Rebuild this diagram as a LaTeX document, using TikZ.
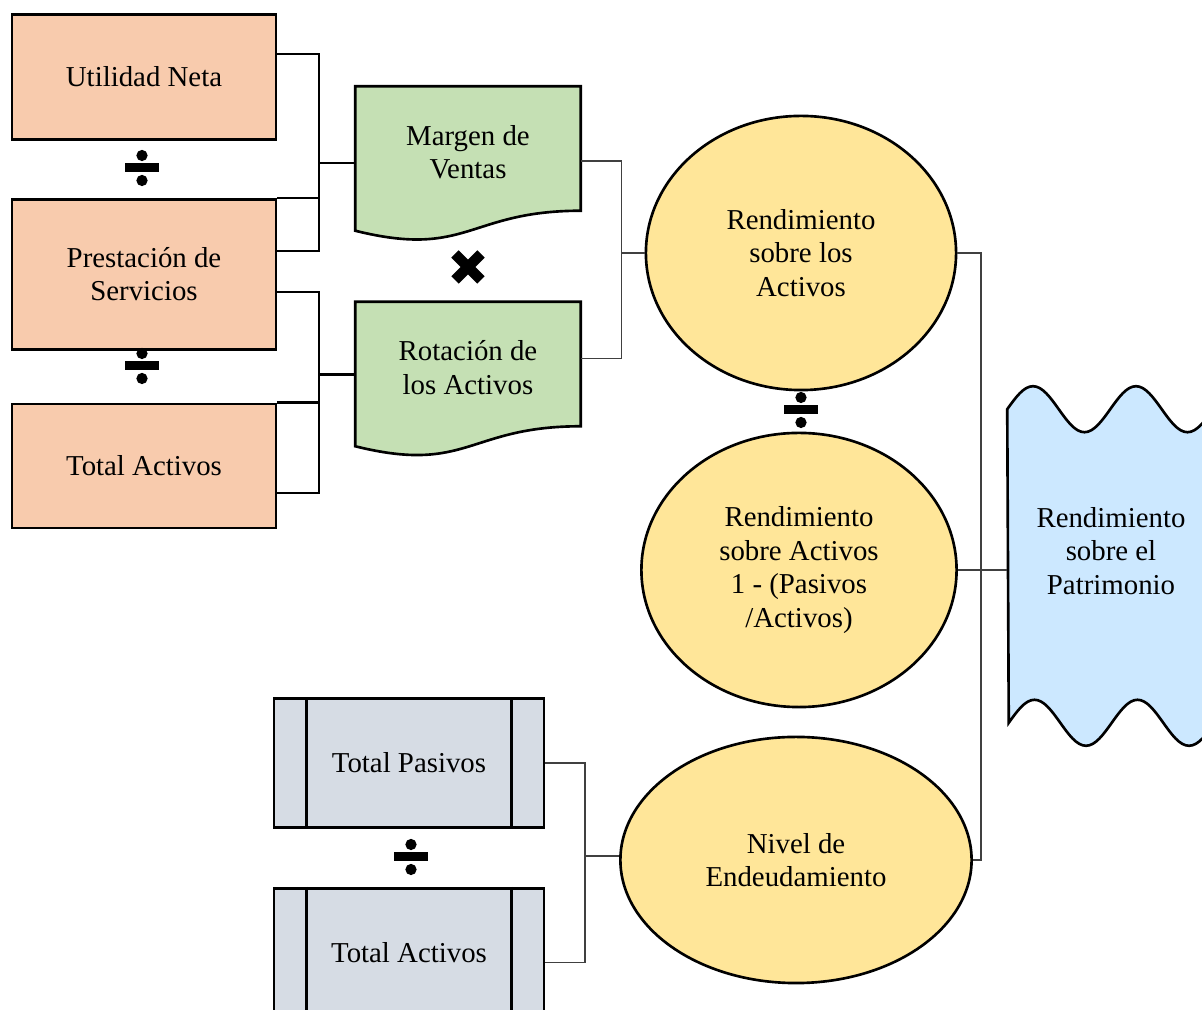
\documentclass[tikz,border=0pt]{standalone}
\usepackage{fontspec}
\setmainfont{Liberation Serif}
\usetikzlibrary{positioning}
\usetikzlibrary{calc}
\usetikzlibrary{shapes.geometric}
\usetikzlibrary{backgrounds}

\definecolor{ratiofill}{HTML}{F8CBAD}
\definecolor{docfill}{HTML}{C5E0B4}
\definecolor{ovalfill}{HTML}{FFE699}
\definecolor{procfill}{HTML}{D6DCE4}
\definecolor{tapefill}{HTML}{CCE8FF}

\tikzset{
  ratio/.style={draw, fill=ratiofill, line width=0.75pt, minimum width=2.64cm, align=center},
  doc/.style={minimum width=2.24cm, minimum height=1.30cm, align=center},
  oval/.style={ellipse, draw, fill=ovalfill, line width=0.75pt, align=center, inner sep=0pt},
  proc/.style={draw, fill=procfill, line width=0.75pt, minimum width=2.70cm, minimum height=1.29cm},
  boldlink/.style={line width=0.65pt},
  link/.style={line width=0.4pt, draw=black!75},
  divsign/.pic={
    \fill (-17,-4.5) rectangle (17,4.5);
    \fill (0,-12.5) circle[radius=1.6pt];
    \fill (0,12.5) circle[radius=1.6pt];
  },
  timessign/.pic={
    \draw[line width=3pt] (-13,-13) -- (13,13) (-13,13) -- (13,-13);
  }
}

\begin{document}
\begin{tikzpicture}[x=0.01cm, y=-0.01cm, node distance=0.57cm, font=\fontsize{8.2}{9.5}\selectfont]
    \useasboundingbox (0,0) rectangle (1202,1010);

    % left column
    \node[ratio, minimum height=1.25cm] (UN) at (144,77) {Utilidad Neta};
    \node[ratio, minimum height=1.50cm] (PS) [below=of UN] {Prestación de\\Servicios};
    \node[ratio, minimum height=1.24cm] (TA) [below=0.52cm of PS] {Total Activos};
    \pic at (142,168) {divsign};
    \pic at (142,366) {divsign};

    % documents
    \node[doc] (MV) at (468,152) {Margen de\\Ventas};
    \node[doc] (RA) [below=0.84cm of MV] {Rotación de\\los Activos};
    \pic at (468,267) {timessign};

    % ovals
    \node[oval, minimum width=3.10cm, minimum height=2.74cm] (RSA) at (801,253) {Rendimiento\\sobre los\\Activos};
    \node[oval, minimum width=3.15cm, minimum height=2.74cm] (RAP) at (799,570) {Rendimiento\\sobre Activos\\1 - (Pasivos\\/Activos)};
    \node[oval, minimum width=3.51cm, minimum height=2.46cm] (NE) at (796,860) {Nivel de\\Endeudamiento};
    \pic at (801,410) {divsign};

    % tape
    \node[minimum width=2.06cm, minimum height=2.82cm, align=center] (RP) at (1111,551) {Rendimiento\\sobre el\\Patrimonio};

    % bottom boxes
    \node[proc] (TP) at (409,763) {Total Pasivos};
    \node[proc] (TA2) [below=0.58cm of TP] {Total Activos};
    \pic at (411,857) {divsign};
    \foreach \n in {TP,TA2} {
        \draw[line width=0.75pt] ($(\n.north west)+(34,0)$) -- ($(\n.south west)+(34,0)$);
        \draw[line width=0.75pt] ($(\n.north east)+(-34,0)$) -- ($(\n.south east)+(-34,0)$);
    }

    \begin{scope}[on background layer]
        \foreach \n in {MV,RA}
            \draw[fill=docfill, line width=0.75pt] (\n.north west) -- (\n.north east)
                -- ($(\n.south east)+(0,-7)$) .. controls ($(\n.south)+(0,-7)$) and ($(\n.south)+(0,41)$) .. ($(\n.south west)+(0,13)$) -- cycle;
        \draw[fill=tapefill, line width=0.75pt] (RP.north west)
            sin ++(25.75,-23) cos ++(25.75,23) sin ++(25.75,23) cos ++(25.75,-23)
            sin ++(25.75,-23) cos ++(25.75,23) sin ++(25.75,23) cos ++(25.75,-23)
            -- ($(RP.south east)+(0,30)$)
            sin ++(-25.75,23) cos ++(-25.75,-23) sin ++(-25.75,-23) cos ++(-25.75,23)
            sin ++(-25.75,23) cos ++(-25.75,-23) sin ++(-25.75,-23) cos ++(-25.75,23)
            -- cycle;
    \end{scope}

    % connectors
    \coordinate (J1) at ($(MV.west)+(-36,11)$);
    \coordinate (J2) at ($(RA.west)+(-36,7)$);
    \draw[boldlink] ($(UN.east)+(0,-23)$) -| (J1) -- (J1 -| MV.west);
    \draw[boldlink] ($(PS.east)+(0,-23)$) -| (J1);
    \draw[boldlink] (PS.north east) -- (PS.north east -| J1);
    \draw[boldlink] ($(PS.east)+(0,18)$) -| (J2) -- (J2 -| RA.west);
    \draw[boldlink] ($(TA.east)+(0,27)$) -| (J2);
    \draw[boldlink] (TA.north east) -- (TA.north east -| J2);

    \coordinate (J3) at ($(RSA.west)+(-23,0)$);
    \draw[link] ($(MV.east)+(0,9)$) -| (J3) -- (RSA.west);
    \draw[link] ($(RA.east)+(0,-9)$) -| (J3);

    \coordinate (J4) at ($(RAP.east)+(23,0)$);
    \draw[link] (RSA.east) -| (J4) |- (NE.east);
    \draw[link] (RAP.east) -- (RAP.east -| RP.west);

    \coordinate (J5) at ($(NE.west)+(-34,-4)$);
    \draw[link] (TP.east) -| (J5) -- (J5 -| NE.west);
    \draw[link] ($(TA2.east)+(0,10)$) -| (J5);
\end{tikzpicture}
\end{document}
